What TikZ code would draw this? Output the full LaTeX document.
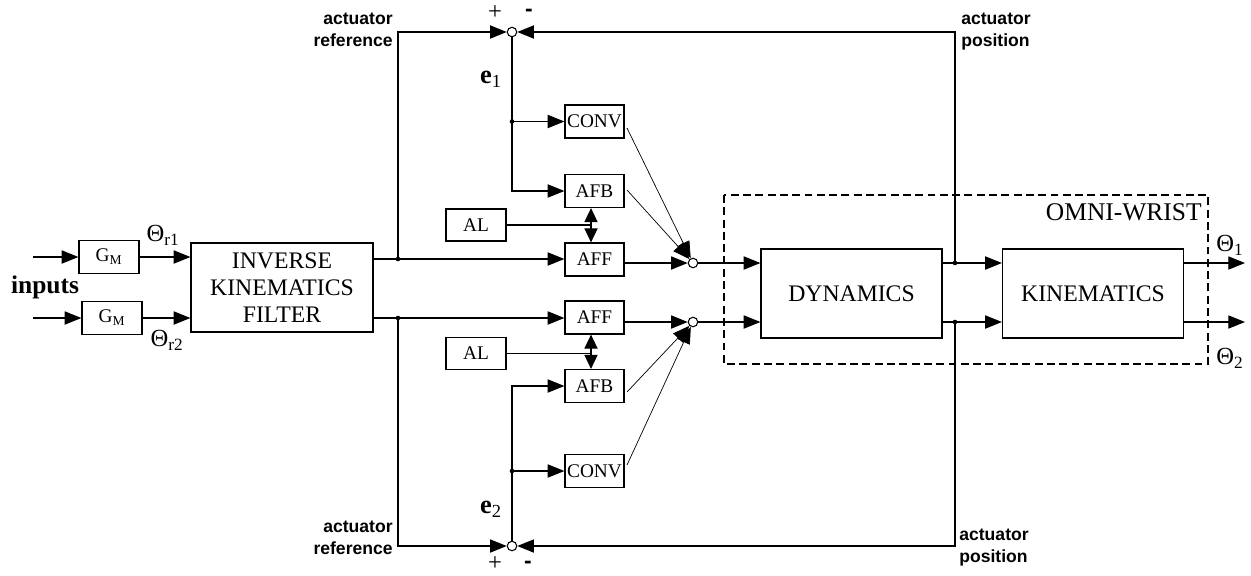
\documentclass[tikz,border=0pt]{standalone}
\usepackage{fontspec}
\setmainfont{Liberation Serif}
\newfontfamily\lsans{Liberation Sans}
\usetikzlibrary{arrows.meta}
\begin{document}
\begin{tikzpicture}[x=0.02cm,y=-0.02cm,
  ln/.style={line width=0.7pt},
  arr/.style={ln,-{Triangle[length=9.5pt,width=7.5pt]}},
  dbl/.style={ln,{Triangle[length=8pt,width=7.5pt]}-{Triangle[length=8pt,width=7.5pt]}},
  diag/.style={line width=0.4pt,-{Triangle[length=9.5pt,width=7.5pt]}},
  blk/.style={draw,line width=0.7pt,inner sep=0pt,minimum width=1.18cm,minimum height=0.66cm,font=\fontsize{11}{12}\selectfont},
  bigblk/.style={draw,line width=0.7pt,inner sep=0pt,minimum width=3.62cm,minimum height=1.78cm,font=\fontsize{13.5}{15.4}\selectfont,align=center},
  sumc/.style={draw,circle,line width=0.6pt,inner sep=0pt,minimum size=0.19cm,fill=white},
  jdot/.style={circle,fill,inner sep=0pt,minimum size=2.6pt},
  act/.style={font=\lsans\bfseries\fontsize{10}{12.5}\selectfont,inner sep=0pt},
  lbl/.style={inner sep=0pt,font=\fontsize{14}{16}\selectfont},
]
\useasboundingbox (0,0) rectangle (1251,575);

% dashed OMNI-WRIST frame
\draw[line width=1pt,dash pattern=on 4.5pt off 2.5pt] (724,195) rectangle (1208,364);
\node[lbl,anchor=east,font=\fontsize{14.5}{16}\selectfont] (omni) at (1202,212) {OMNI-WRIST};

% blocks
\node[blk,minimum width=1.2cm] (gm1) at (109,257) {G\textsubscript{M}};
\node[blk,minimum width=1.2cm] (gm2) at (112,318) {G\textsubscript{M}};
\node[bigblk,minimum width=3.64cm] (ikf) at (282,287.5) {INVERSE\\KINEMATICS\\FILTER};
\node[blk] (conv1) at (594.5,121.5) {CONV};
\node[blk] (afb1) at (594.5,191) {AFB};
\node[blk,minimum width=1.2cm,minimum height=0.64cm] (al1) at (476,225) {AL};
\node[blk] (aff1) at (594.5,259.5) {AFF};
\node[blk] (aff2) at (594.5,317.5) {AFF};
\node[blk,minimum width=1.2cm,minimum height=0.64cm] (al2) at (476,353.5) {AL};
\node[blk] (afb2) at (594.5,386) {AFB};
\node[blk] (conv2) at (594.5,471) {CONV};
\node[bigblk] (dyn) at (851.5,293.5) {DYNAMICS};
\node[bigblk] (kin) at (1093,293.5) {KINEMATICS};

% summing junctions
\node[sumc] (s1) at (512,32) {};
\node[sumc] (s2) at (512,546) {};
\node[sumc] (s3) at (693,263) {};
\node[sumc] (s4) at (693,322) {};

% coordinates
\coordinate (in1) at (33,257);
\coordinate (in2) at (33,318);
\coordinate (j1) at (398,259);
\coordinate (j2) at (398,318);
\coordinate (j3) at (512,121.5);
\coordinate (j4) at (512,471);
\coordinate (j5) at (955,263);
\coordinate (j6) at (955,322);
\coordinate (dx) at (591,0);
\coordinate (out1) at (1245,263);
\coordinate (out2) at (1245,322);
\coordinate (d1) at (627,128);
\coordinate (d2) at (627,190);
\coordinate (d3) at (627,392);
\coordinate (d4) at (627,465);

% inputs
\draw[arr] (in1) -- (gm1.west);
\draw[arr] (in2) -- (gm2.west);
\draw[arr] (gm1.east) -- (ikf.west |- gm1);
\draw[arr] (gm2.east) -- (ikf.west |- gm2);

% IKF outputs
\draw[arr] (ikf.east |- j1) -- (aff1.west |- j1);
\draw[arr] (ikf.east |- j2) -- (aff2.west |- j2);
\draw[arr] (j1) |- (s1);
\draw[arr] (j2) |- (s2);

% error paths
\draw[arr] (s1) |- (afb1.west);
\draw[arr] (j3) -- (conv1.west);
\draw[arr] (s2) |- (afb2.west);
\draw[arr] (j4) -- (conv2.west);

% AL adaptation
\draw[ln] (al1.east) -- (al1.east -| dx);
\draw[dbl] (afb1.south -| dx) -- (aff1.north -| dx);
\draw[ln] (al2.east) -- (al2.east -| dx);
\draw[dbl] (aff2.south -| dx) -- (afb2.north -| dx);

% to summing points
\draw[arr] (aff1.east |- s3) -- (s3);
\draw[arr] (aff2.east |- s4) -- (s4);
\draw[diag] (d1) -- (s3);
\draw[diag] (d2) -- (s3);
\draw[diag] (d3) -- (s4);
\draw[diag] (d4) -- (s4);

% plant
\draw[arr] (s3) -- (dyn.west |- s3);
\draw[arr] (s4) -- (dyn.west |- s4);
\draw[arr] (dyn.east |- s3) -- (kin.west |- s3);
\draw[arr] (dyn.east |- s4) -- (kin.west |- s4);
\draw[arr] (kin.east |- s3) -- (out1);
\draw[arr] (kin.east |- s4) -- (out2);

% feedback
\draw[arr] (j5) |- (s1);
\draw[arr] (j6) |- (s2);

% junction dots
\foreach \j in {j1,j2,j3,j4,j5,j6} \node[jdot] at (\j) {};

% labels
\node[act,anchor=north east,align=right] (ar1) at (393,13) {actuator\\reference};
\node[act,anchor=north west,align=left] (ap1) at (961,13) {actuator\\position};
\node[act,anchor=north east,align=right] (ar2) at (393,521) {actuator\\reference};
\node[act,anchor=north west,align=left] (ap2) at (959,529) {actuator\\position};
\node[lbl] (p1) at (495,13) {+};
\node[lbl,font=\lsans\bfseries\fontsize{13}{15}\selectfont] (m1) at (529,13) {-};
\node[lbl] (p2) at (495,564) {+};
\node[lbl,font=\lsans\bfseries\fontsize{13}{15}\selectfont] (m2) at (528,565) {-};
\node[lbl,font=\bfseries\fontsize{15}{16}\selectfont] (e1) at (491,79) {e\textsubscript{\normalfont 1}};
\node[lbl,font=\bfseries\fontsize{15}{16}\selectfont] (e2) at (491,509) {e\textsubscript{\normalfont 2}};
\node[lbl] (tr1) at (163,235) {Θ\textsubscript{r1}};
\node[lbl] (tr2) at (167,340) {Θ\textsubscript{r2}};
\node[lbl] (t1) at (1230,245) {Θ\textsubscript{1}};
\node[lbl] (t2) at (1230,358) {Θ\textsubscript{2}};
\node[lbl,font=\bfseries\fontsize{14.5}{16}\selectfont] (inp) at (45,287) {inputs};
\end{tikzpicture}
\end{document}
